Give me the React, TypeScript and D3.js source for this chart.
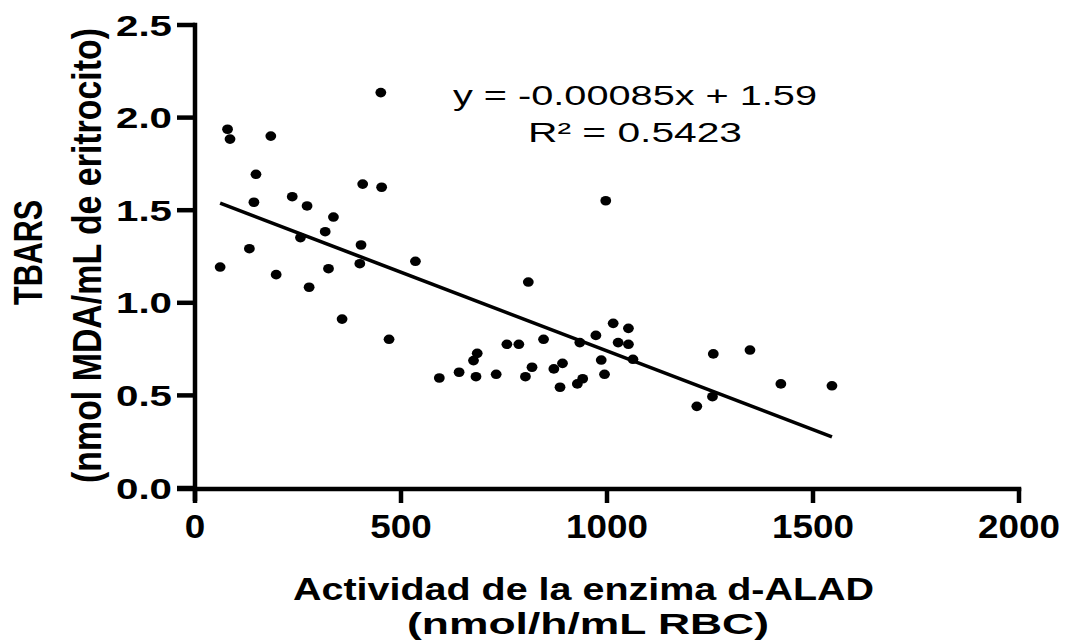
import React from "react";
import * as d3 from "d3";

// d-ALAD enzyme activity (nmol/h/mL RBC) per subject
const activity = [
  451, 79, 85, 184, 148, 143, 236, 272, 336, 316, 256, 407, 453, 403, 132, 61,
  197, 324, 400, 535, 277, 357, 471, 593, 641, 809, 682, 676, 685, 731, 757,
  786, 802, 818, 846, 871, 892, 886, 928, 941, 934, 973, 986, 994, 1015, 1052,
  1027, 1052, 1063, 1218, 1256, 1258, 1347, 1422, 1546, 997,
];

// TBARS (nmol MDA/mL de eritrocito) per subject
const tbars = [
  2.135, 1.937, 1.884, 1.9, 1.694, 1.543, 1.573, 1.523, 1.463, 1.384, 1.352,
  1.641, 1.624, 1.312, 1.292, 1.193, 1.152, 1.184, 1.211, 1.224, 1.084, 0.912,
  0.803, 0.594, 0.625, 1.112, 0.601, 0.688, 0.727, 0.614, 0.776, 0.776, 0.601,
  0.652, 0.803, 0.643, 0.673, 0.544, 0.562, 0.59, 0.785, 0.824, 0.691, 0.614,
  0.889, 0.862, 0.785, 0.776, 0.695, 0.441, 0.493, 0.724, 0.745, 0.562, 0.552,
  1.551,
];

const xTicks = [0, 500, 1000, 1500, 2000];
const yTicks = [0, 0.5, 1.0, 1.5, 2.0, 2.5];

// Linear fit
const slope = -0.00085;
const intercept = 1.59;
const r2 = 0.5423;

const equationLabel = `y = ${slope}x + ${intercept}`;
const r2Label = `R² = ${r2}`;

const W = 1068;
const H = 643;
const BOLD = "'Liberation Sans', Arial, Helvetica, sans-serif";

export default function App() {
  const x = d3.scaleLinear().domain([0, 2000]).range([195, 1019]);
  const y = d3.scaleLinear().domain([0, 2.5]).range([488, 25]);

  const [xMin, xMax] = d3.extent(activity) as [number, number];
  const fitLine = d3
    .line<number>()
    .x((v) => x(v))
    .y((v) => y(intercept + slope * v));

  const axisStroke = 4.5;

  return (
    <svg
      width={W}
      height={H}
      style={{ position: "fixed", left: 0, top: 0, display: "block", background: "#fff" }}
      fontFamily={BOLD}
    >
      <rect width={W} height={H} fill="#fff" />

      {/* points */}
      <g fill="#000">
        {activity.map((a, i) => (
          <ellipse key={i} cx={x(a)} cy={y(tbars[i])} rx={5.4} ry={4.8} />
        ))}
      </g>

      {/* regression line */}
      <path d={fitLine([xMin, xMax]) ?? ""} stroke="#000" strokeWidth={3.6} fill="none" />

      {/* y axis */}
      <g stroke="#000" strokeWidth={axisStroke} strokeLinecap="butt">
        <line x1={x(0)} x2={x(0)} y1={y(2.5) - axisStroke / 2} y2={501} />
        {yTicks.map((t) => (
          <line key={t} x1={177} x2={x(0)} y1={y(t)} y2={y(t)} />
        ))}
      </g>
      {yTicks.map((t) => (
        <text
          key={t}
          x={172}
          y={y(t) + 10.5}
          textAnchor="end"
          fontSize={29.5}
          fontWeight="bold"
          textLength={56}
          lengthAdjust="spacingAndGlyphs"
        >
          {t.toFixed(1)}
        </text>
      ))}

      {/* x axis */}
      <g stroke="#000" strokeWidth={axisStroke} strokeLinecap="butt">
        <line x1={177} x2={x(2000) + axisStroke / 2} y1={y(0) + 1} y2={y(0) + 1} />
        {xTicks.map((t) => (
          <line key={t} x1={x(t)} x2={x(t)} y1={y(0)} y2={503} />
        ))}
      </g>
      {xTicks.map((t) => {
        const s = String(t);
        return (
          <text
            key={t}
            x={x(t)}
            y={538}
            textAnchor="middle"
            fontSize={32.5}
            fontWeight="bold"
            textLength={20.5 * s.length}
            lengthAdjust="spacingAndGlyphs"
          >
            {s}
          </text>
        );
      })}

      {/* x axis title */}
      <text
        x={583.5}
        y={600}
        textAnchor="middle"
        fontSize={30.5}
        fontWeight="bold"
        textLength={581}
        lengthAdjust="spacingAndGlyphs"
      >
        Actividad de la enzima d-ALAD
      </text>
      <text
        x={588}
        y={634}
        textAnchor="middle"
        fontSize={29.5}
        fontWeight="bold"
        textLength={362}
        lengthAdjust="spacingAndGlyphs"
      >
        (nmol/h/mL RBC)
      </text>

      {/* y axis title */}
      <g transform="translate(42,252.5) rotate(-90) scale(1,1.33)">
        <text
          x={0}
          y={0}
          textAnchor="middle"
          fontSize={30.5}
          fontWeight="bold"
          textLength={105}
          lengthAdjust="spacingAndGlyphs"
        >
          TBARS
        </text>
      </g>
      <g transform="translate(101,255.5) rotate(-90) scale(1,1.33)">
        <text
          x={0}
          y={0}
          textAnchor="middle"
          fontSize={30.5}
          fontWeight="bold"
          textLength={455}
          lengthAdjust="spacingAndGlyphs"
        >
          (nmol MDA/mL de eritrocito)
        </text>
      </g>

      {/* fit equation */}
      <text
        x={635}
        y={105}
        textAnchor="middle"
        fontSize={27}
        textLength={364}
        lengthAdjust="spacingAndGlyphs"
      >
        {equationLabel}
      </text>
      <text
        x={635}
        y={142}
        textAnchor="middle"
        fontSize={27}
        textLength={214}
        lengthAdjust="spacingAndGlyphs"
      >
        {r2Label}
      </text>
    </svg>
  );
}
